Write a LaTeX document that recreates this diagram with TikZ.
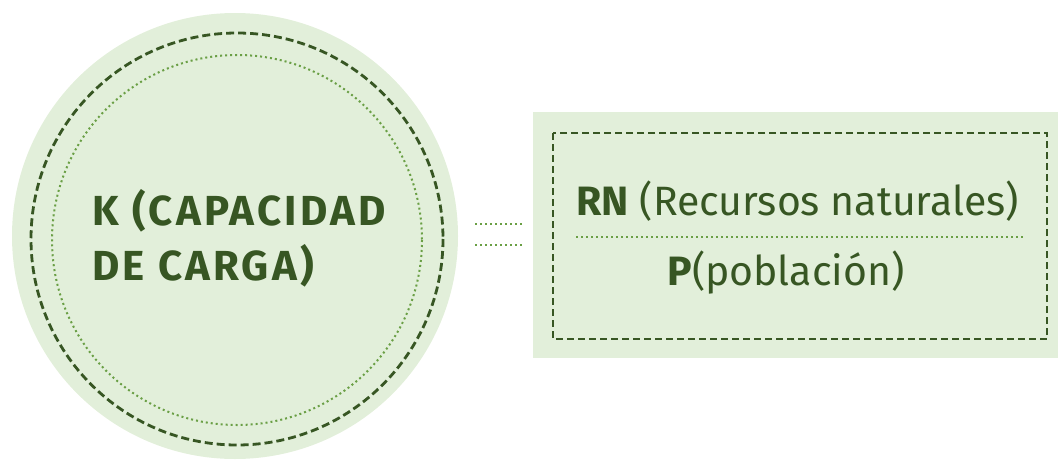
\documentclass[tikz,border=0pt]{standalone}
\usepackage{fontspec}
\setmainfont{Fira Sans}
\newfontfamily\fuentek[LetterSpace=7.5]{Fira Sans}
\usepackage{tikz}

\definecolor{fondo}{HTML}{E2EFDA}
\definecolor{verdeosc}{HTML}{375623}
\definecolor{verdeclaro}{HTML}{6A9F45}

\tikzset{
  borde/.style={verdeosc, line width=1.4pt, dash pattern=on 4pt off 2pt},
  puntos/.style={verdeclaro, line width=1pt, dash pattern=on 1pt off 1.5pt},
  texto/.style={text=verdeosc, inner sep=0pt, font=\fontsize{20.5}{24}\selectfont},
  textok/.style={texto, font=\fuentek\fontsize{21}{25}\selectfont\bfseries}
}

\begin{document}
\begin{tikzpicture}[x=0.5pt,y=-0.5pt]
\useasboundingbox (0,0) rectangle (1058,460);

% circulo
\node [circle, fill=fondo, inner sep=0pt, minimum size=223pt] (cap) at (235,236) {};
\draw [borde] (237,239) circle (206);
\draw [puntos] (237,240) circle (185);

\node [textok, anchor=base west] (k1) at (92,225) {K (CAPACIDAD};
\node [textok, anchor=base west] (k2) at (92,280) {DE CARGA)};

% caja
\node [rectangle, fill=fondo, inner sep=0pt, minimum width=262.5pt, minimum height=123pt, anchor=north west] (box) at (533,112) {};
\draw [borde, dash pattern=on 3.5pt off 2pt] (553,133) rectangle (1047,339);

\node [texto, anchor=base west] (rn) at (576,215) {\textbf{RN} (Recursos naturales)};
\node [texto, anchor=base west] (pob) at (667,285) {\textbf{P}(población)};
\draw [puntos] (576,237) -- (1025,237);

% enlace
\coordinate (a1) at (475,224);
\coordinate (b1) at (522,224);
\coordinate (a2) at (475,245);
\coordinate (b2) at (522,245);
\draw [puntos] (a1) -- (b1);
\draw [puntos] (a2) -- (b2);

\end{tikzpicture}
\end{document}
